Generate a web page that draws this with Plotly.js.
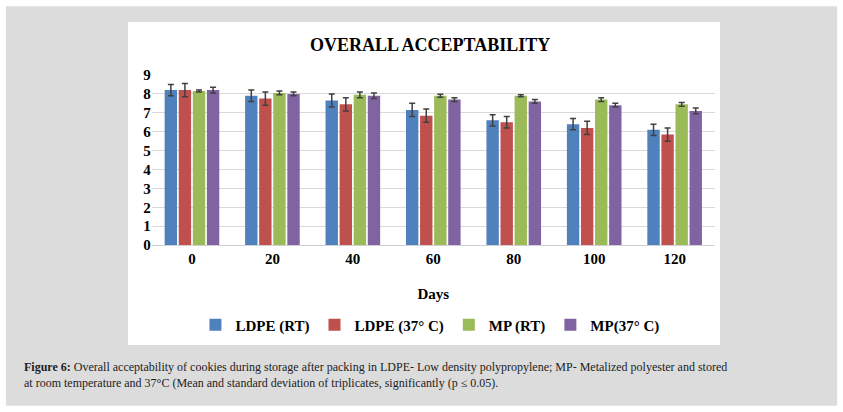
<!DOCTYPE html>
<html><head><meta charset="utf-8">
<script src="https://cdn.plot.ly/plotly-3.0.1.min.js"></script>
<style>body{margin:0}</style></head>
<body><div id="plt" style="width:843px;height:412px"></div>
<script>
var days = ['0', '20', '40', '60', '80', '100', '120'];
var names = ['LDPE (RT)', 'LDPE (37° C)', 'MP (RT)', 'MP(37° C)'];
var colors = ['#4f81bd', '#c0504d', '#9bbb59', '#8064a2'];
var ldpeRT = [8.2, 7.9, 7.65, 7.15, 6.6, 6.4, 6.1];
var ldpe37 = [8.2, 7.75, 7.45, 6.85, 6.5, 6.2, 5.85];
var mpRT = [8.15, 8.05, 7.95, 7.9, 7.9, 7.7, 7.45];
var mp37 = [8.2, 8.0, 7.9, 7.7, 7.6, 7.4, 7.1];
var errLdpeRT = [0.3, 0.3, 0.35, 0.35, 0.3, 0.3, 0.3];
var errLdpe37 = [0.35, 0.35, 0.35, 0.35, 0.3, 0.35, 0.35];
var errMpRT = [0.05, 0.1, 0.15, 0.08, 0.05, 0.1, 0.1];
var errMp37 = [0.15, 0.1, 0.15, 0.1, 0.1, 0.1, 0.15];

var values = [ldpeRT, ldpe37, mpRT, mp37];
var errs = [errLdpeRT, errLdpe37, errMpRT, errMp37];

function plot(){
    let d = values.map((v, i) => ({
        type: 'bar',
        name: '<b>' + names[i] + '</b>',
        x: days,
        y: v,
        marker: {color: colors[i]},
        error_y: {type: 'data', array: errs[i], color: '#404040', thickness: 1.5, width: 3}
    }));
    let serif = 'Liberation Serif, Times New Roman, serif';
    let l = {
        width: 843, height: 412,
        margin: {l: 0, r: 0, t: 0, b: 0},
        paper_bgcolor: '#ffffff',
        plot_bgcolor: 'rgba(0,0,0,0)',
        font: {family: serif, color: '#000'},
        bargap: 0.3, bargroupgap: 0.12,
        showlegend: true,
        legend: {orientation: 'h', x: 0.51, xanchor: 'center', y: 1 - 325/412, yanchor: 'middle',
                 font: {size: 15, family: serif}, traceorder: 'normal', itemwidth: 20, entrywidth: 0},
        xaxis: {domain: [0.18, 0.848], showline: true, linecolor: '#d0d0d0',
                tickfont: {size: 15, family: serif, weight: 'bold'}, ticks: '',
                title: {text: '<b>Days</b>', font: {size: 15, family: serif}, standoff: 22}},
        yaxis: {domain: [0.405, 0.818], range: [0, 9], dtick: 1,
                gridcolor: '#d9d9d9', zeroline: false,
                tickfont: {size: 15, family: serif, weight: 'bold'}},
        shapes: [
            {type: 'rect', xref: 'paper', yref: 'paper', x0: 0.007, x1: 0.993, y0: 0.015, y1: 0.985,
             fillcolor: '#dcdcdc', line: {width: 0}, layer: 'below'},
            {type: 'rect', xref: 'paper', yref: 'paper', x0: 128/843, x1: 720/843, y0: 1 - 345/412, y1: 1 - 22/412,
             fillcolor: '#ffffff', line: {width: 0}, layer: 'below'}
        ],
        annotations: [
            {text: '<b>OVERALL ACCEPTABILITY</b>', xref: 'paper', yref: 'paper', x: 0.51, y: 1 - 45/412,
             yanchor: 'middle', showarrow: false, font: {size: 18, family: serif}},
            {text: '<b>Figure 6:</b> Overall acceptability of cookies during storage after packing in LDPE- Low density polypropylene; MP- Metalized polyester and stored<br>at room temperature and 37°C (Mean and standard deviation of triplicates, significantly (p ≤ 0.05).',
             xref: 'paper', yref: 'paper', x: 22/843, y: 1 - 375/412, xanchor: 'left', yanchor: 'middle', align: 'left',
             showarrow: false, font: {size: 12, family: serif, color: '#222'}}
        ]
    };
    Plotly.newPlot('plt', d, l, {displayModeBar: false});
}
plot();
</script></body></html>
